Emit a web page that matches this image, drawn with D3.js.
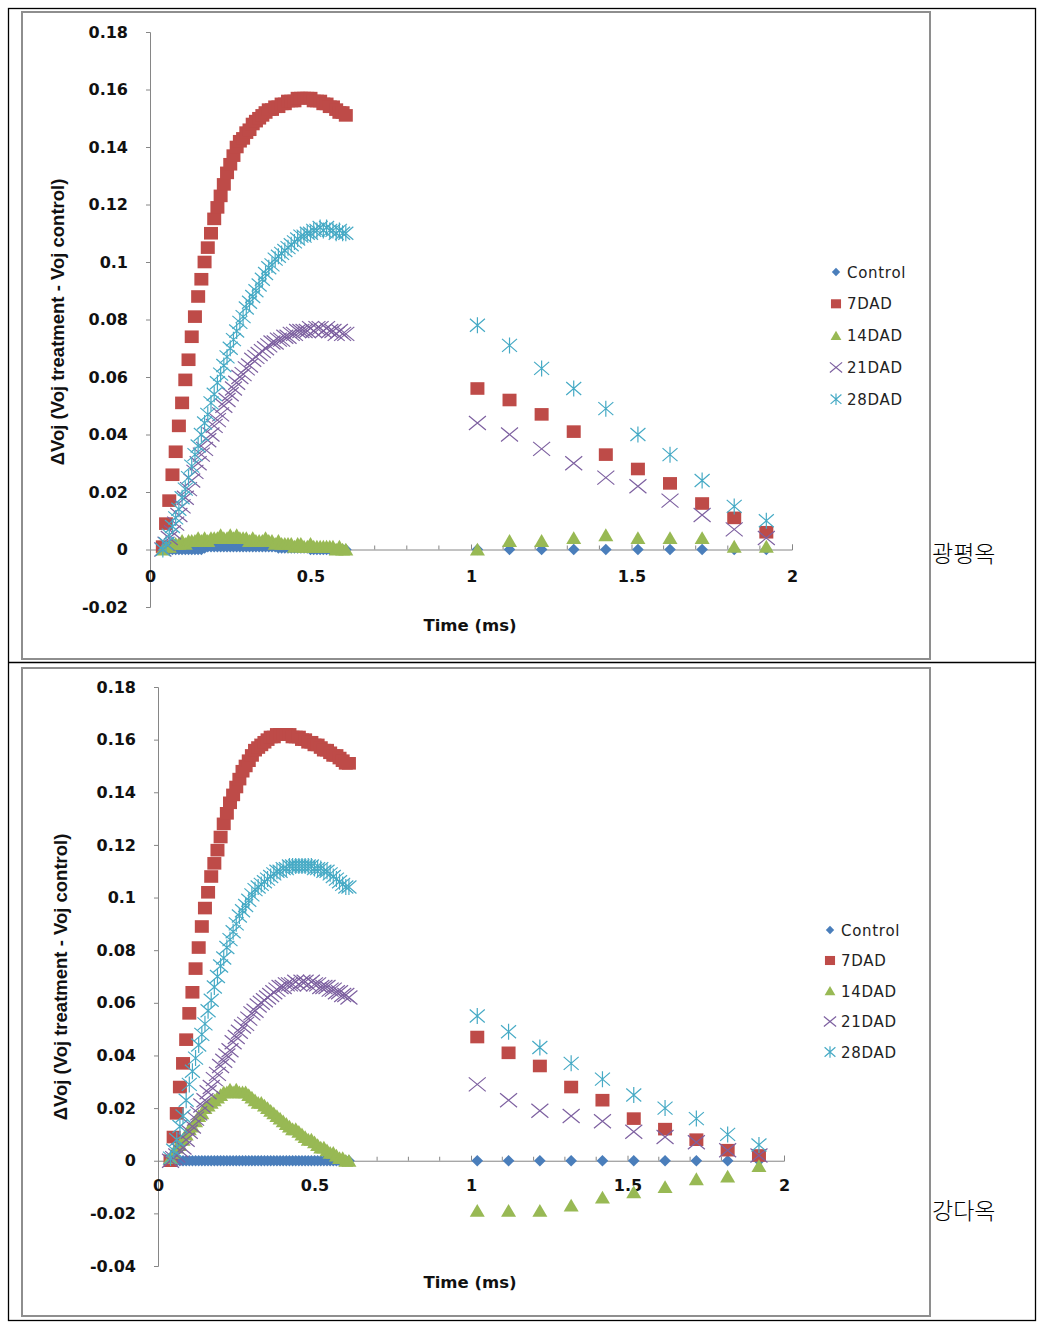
<!DOCTYPE html>
<html><head><meta charset="utf-8">
<script src="https://cdnjs.cloudflare.com/ajax/libs/d3/7.8.5/d3.min.js"></script>
<style>body{margin:0;background:#fff}svg{display:block}</style>
</head><body><svg id="c" width="1044" height="1329"></svg>
<script>
// ---------- data ----------
const seriesNames = ["Control","7DAD","14DAD","21DAD","28DAD"];
const denseTime = [0.04,0.05,0.06,0.07,0.08,0.09,0.10,0.11,0.12,0.13,0.14,0.15,0.16,0.17,0.18,0.19,0.20,0.21,0.22,0.23,0.24,0.25,0.26,0.27,0.28,0.29,0.30,0.31,0.32,0.33,0.34,0.35,0.36,0.37,0.38,0.39,0.40,0.41,0.42,0.43,0.44,0.45,0.46,0.47,0.48,0.49,0.50,0.51,0.52,0.53,0.54,0.55,0.56,0.57,0.58,0.59,0.60,0.61];
const sparseTime = [1.02,1.12,1.22,1.32,1.42,1.52,1.62,1.72,1.82,1.92];

// Panel 1 (광평옥)
const p1Control = [0,0,0,0,0,0,0,0,0,0,0,0,0,0.0005,0.001,0.001,0.001,0.001,0.001,0.001,0.001,0.001,0.001,0.001,0.001,0.001,0.001,0.001,0.001,0.001,0.001,0.001,0.001,0.001,0.001,0.001,0.0005,0.0005,0.0005,0.0005,0.0005,0.0005,0.0005,0.0005,0.0005,0.0005,0,0,0,0,0,0,0,0,0,0,0,0];
const p1D7 = [0.001,0.009,0.017,0.026,0.034,0.043,0.051,0.059,0.066,0.074,0.081,0.088,0.094,0.100,0.105,0.110,0.115,0.119,0.123,0.127,0.131,0.134,0.137,0.140,0.142,0.143,0.145,0.146,0.148,0.149,0.150,0.151,0.152,0.153,0.153,0.154,0.154,0.155,0.155,0.156,0.156,0.156,0.157,0.157,0.157,0.157,0.157,0.156,0.156,0.156,0.155,0.155,0.154,0.154,0.153,0.152,0.152,0.151];
const p1D14 = [0.000,0.001,0.001,0.002,0.002,0.002,0.003,0.002,0.003,0.003,0.003,0.004,0.003,0.004,0.003,0.004,0.004,0.004,0.005,0.004,0.004,0.005,0.004,0.005,0.004,0.004,0.004,0.003,0.004,0.003,0.003,0.003,0.004,0.003,0.003,0.002,0.003,0.002,0.002,0.002,0.002,0.001,0.002,0.002,0.001,0.001,0.002,0.001,0.001,0.001,0.001,0.001,0.001,0.001,0.000,0.001,0.000,0.000];
const p1D21 = [0.000,0.002,0.004,0.006,0.009,0.012,0.015,0.018,0.021,0.024,0.027,0.030,0.033,0.035,0.038,0.040,0.043,0.045,0.047,0.050,0.052,0.054,0.056,0.058,0.060,0.061,0.063,0.064,0.066,0.067,0.068,0.069,0.070,0.071,0.072,0.072,0.073,0.073,0.074,0.074,0.075,0.075,0.076,0.076,0.076,0.076,0.077,0.076,0.077,0.077,0.076,0.077,0.076,0.076,0.075,0.076,0.075,0.075];
const p1D28 = [0.000,0.002,0.005,0.008,0.011,0.014,0.018,0.021,0.025,0.029,0.033,0.036,0.040,0.044,0.047,0.051,0.054,0.058,0.061,0.064,0.067,0.070,0.073,0.076,0.079,0.081,0.084,0.086,0.088,0.090,0.092,0.094,0.096,0.098,0.099,0.101,0.102,0.103,0.104,0.105,0.106,0.107,0.108,0.109,0.109,0.110,0.110,0.111,0.111,0.112,0.111,0.112,0.111,0.111,0.110,0.111,0.110,0.110];
const p1ControlLate = [0,0,0,0,0,0,0,0,0,0];
const p1D7Late  = [0.056,0.052,0.047,0.041,0.033,0.028,0.023,0.016,0.011,0.006];
const p1D14Late = [0.000,0.003,0.003,0.004,0.005,0.004,0.004,0.004,0.001,0.001];
const p1D21Late = [0.044,0.040,0.035,0.030,0.025,0.022,0.017,0.012,0.007,0.004];
const p1D28Late = [0.078,0.071,0.063,0.056,0.049,0.040,0.033,0.024,0.015,0.010];

// Panel 2 (강다옥)
const p2Control = [0,0,0,0,0,0,0,0,0,0,0,0,0,0,0,0,0,0,0,0,0,0,0,0,0,0,0,0,0,0,0,0,0,0,0,0,0,0,0,0,0,0,0,0,0,0,0,0,0,0,0,0,0,0,0,0,0,0];
const p2D7 = [0.000,0.009,0.018,0.028,0.037,0.046,0.056,0.064,0.073,0.081,0.089,0.096,0.102,0.108,0.113,0.118,0.123,0.128,0.132,0.136,0.139,0.142,0.145,0.148,0.150,0.152,0.154,0.156,0.157,0.158,0.159,0.160,0.161,0.161,0.162,0.162,0.162,0.162,0.162,0.161,0.161,0.161,0.160,0.160,0.159,0.159,0.158,0.158,0.157,0.156,0.156,0.155,0.154,0.154,0.153,0.152,0.151,0.151];
const p2D14 = [0.001,0.003,0.005,0.006,0.008,0.010,0.012,0.013,0.015,0.017,0.018,0.020,0.021,0.022,0.023,0.024,0.025,0.026,0.026,0.027,0.026,0.027,0.026,0.026,0.026,0.025,0.024,0.023,0.022,0.022,0.021,0.020,0.019,0.018,0.017,0.016,0.015,0.014,0.013,0.012,0.012,0.011,0.010,0.009,0.008,0.008,0.007,0.006,0.005,0.005,0.004,0.003,0.003,0.002,0.001,0.001,0.000,0.000];
const p2D21 = [0.000,0.001,0.002,0.004,0.005,0.008,0.011,0.013,0.016,0.018,0.021,0.023,0.026,0.028,0.031,0.033,0.036,0.038,0.040,0.042,0.045,0.047,0.049,0.051,0.052,0.054,0.056,0.057,0.059,0.060,0.061,0.062,0.063,0.064,0.065,0.066,0.066,0.067,0.067,0.067,0.068,0.067,0.068,0.068,0.067,0.068,0.067,0.067,0.066,0.066,0.066,0.065,0.065,0.064,0.064,0.063,0.063,0.062];
const p2D28 = [0.001,0.004,0.008,0.013,0.017,0.023,0.029,0.034,0.039,0.044,0.048,0.052,0.057,0.061,0.066,0.070,0.074,0.077,0.081,0.084,0.087,0.090,0.093,0.095,0.097,0.099,0.101,0.103,0.104,0.105,0.106,0.107,0.108,0.109,0.110,0.110,0.111,0.111,0.112,0.112,0.112,0.112,0.112,0.112,0.112,0.112,0.111,0.111,0.111,0.110,0.110,0.109,0.108,0.107,0.106,0.105,0.104,0.104];
const p2ControlLate = [0,0,0,0,0,0,0,0,0,0];
const p2D7Late  = [0.047,0.041,0.036,0.028,0.023,0.016,0.012,0.008,0.004,0.002];
const p2D14Late = [-0.019,-0.019,-0.019,-0.017,-0.014,-0.012,-0.010,-0.007,-0.006,-0.002];
const p2D21Late = [0.029,0.023,0.019,0.017,0.015,0.011,0.009,0.007,0.004,0.002];
const p2D28Late = [0.055,0.049,0.043,0.037,0.031,0.025,0.020,0.016,0.010,0.006];

const xTickValues = [0,0.5,1,1.5,2];
const xTickLabels = ["0","0.5","1","1.5","2"];
const xMinorTicks = [0.1,0.2,0.3,0.4,0.6,0.7,0.8,0.9,1.1,1.2,1.3,1.4,1.6,1.7,1.8,1.9];
const p1YTicks = [-0.02,0,0.02,0.04,0.06,0.08,0.1,0.12,0.14,0.16,0.18];
const p1YLabels = ["-0.02","0","0.02","0.04","0.06","0.08","0.1","0.12","0.14","0.16","0.18"];
const p2YTicks = [-0.04,-0.02,0,0.02,0.04,0.06,0.08,0.1,0.12,0.14,0.16,0.18];
const p2YLabels = ["-0.04","-0.02","0","0.02","0.04","0.06","0.08","0.1","0.12","0.14","0.16","0.18"];
const colors = ["#4a7ebb","#be4b48","#98b954","#7d60a0","#46aac5"];

// ---------- drawing ----------
const svg = d3.select("#c");
const BOLD = "'DejaVu Sans', Verdana, sans-serif";

svg.append("rect").attr("x",8.5).attr("y",8.5).attr("width",1027).attr("height",1312)
  .attr("fill","none").attr("stroke","#000").attr("stroke-width",1.3);
svg.append("line").attr("x1",8).attr("x2",1036).attr("y1",662.5).attr("y2",662.5)
  .attr("stroke","#000").attr("stroke-width",1.3);
[[22,12,908,647],[22,668,908,648]].forEach(f=>{
  svg.append("rect").attr("x",f[0]).attr("y",f[1]).attr("width",f[2]).attr("height",f[3])
    .attr("fill","none").attr("stroke","#8e8e8e").attr("stroke-width",2);
});

function markerPath(k, s){
  s = s||1;
  switch(k){
    case 0: return `M0,${-5.8*s}L${5.8*s},0L0,${5.8*s}L${-5.8*s},0Z`;
    case 1: return `M${-7*s},${-6.3*s}h${14*s}v${12.6*s}h${-14*s}Z`;
    case 2: return `M0,${-6.8*s}L${7.5*s},${6*s}L${-7.5*s},${6*s}Z`;
    case 3: return `M${-8.5*s},${-7*s}L${8.5*s},${7*s}M${-8.5*s},${7*s}L${8.5*s},${-7*s}`;
    case 4: return `M${-7.5*s},${-6.5*s}L${7.5*s},${6.5*s}M${-7.5*s},${6.5*s}L${7.5*s},${-6.5*s}M0,${-8*s}L0,${8*s}`;
  }
}
function drawMarker(g, k, s){
  const p = g.append("path").attr("d", markerPath(k,s));
  if(k<=2) p.attr("fill",colors[k]).attr("stroke","none");
  else p.attr("fill","none").attr("stroke",colors[k]).attr("stroke-width",1.2);
  return p;
}

function panel(cfg){
  const x = d3.scaleLinear().domain([0,2]).range([cfg.x0, cfg.x1]);
  const y = d3.scaleLinear().domain(cfg.yDomain).range([cfg.yBottom, cfg.yTop]);
  const g = svg.append("g");
  const axisColor = "#868686";
  const ya = d3.axisLeft(y).tickValues(cfg.yTicks).tickSize(4).tickFormat((d,i)=>cfg.yLabels[i]).tickPadding(18);
  const yg = g.append("g").attr("transform",`translate(${cfg.x0},0)`).call(ya);
  yg.select(".domain").attr("stroke",axisColor);
  yg.selectAll(".tick line").attr("stroke",axisColor);
  yg.selectAll("text").attr("font-family",BOLD).attr("font-weight","bold").attr("font-size",16).attr("fill","#111");
  const y0 = y(0);
  const xa = d3.axisBottom(x).tickValues(xTickValues).tickSize(-5).tickFormat((d,i)=>xTickLabels[i]).tickPadding(0);
  const xg = g.append("g").attr("transform",`translate(0,${y0})`).call(xa);
  xg.select(".domain").attr("stroke",axisColor);
  xg.selectAll(".tick line").attr("stroke",axisColor);
  xg.selectAll("text").attr("font-family",BOLD).attr("font-weight","bold").attr("font-size",16).attr("fill","#111")
    .attr("dy",null).attr("y",cfg.xLabelDy);
  g.append("g").selectAll("line").data(xMinorTicks).join("line")
    .attr("x1",d=>x(d)).attr("x2",d=>x(d)).attr("y1",y0).attr("y2",y0-4).attr("stroke",axisColor);
  g.append("text").attr("x",470).attr("y",cfg.xTitleY).attr("text-anchor","middle")
    .attr("font-family",BOLD).attr("font-weight","bold").attr("font-size",16.5).attr("fill","#111").text("Time (ms)");
  g.append("text").attr("transform",`translate(${cfg.yTitleX},${cfg.yTitleY}) rotate(-90)`).attr("text-anchor","middle")
    .attr("font-family","'Liberation Sans', Arial, sans-serif").attr("font-weight","bold").attr("font-size",18.5).attr("fill","#111")
    .text("ΔVoj (Voj treatment - Voj control)");
  cfg.series.forEach((s,k)=>{
    const pts = denseTime.map((t,i)=>[t, s.early[i]]).concat(sparseTime.map((t,i)=>[t, s.late[i]]))
      .filter(d=>d[1]!==undefined);
    const sg = g.append("g");
    pts.forEach(d=>{
      drawMarker(sg,k,1).attr("transform",`translate(${x(d[0])},${y(d[1])})`);
    });
  });
  seriesNames.forEach((n,k)=>{
    const ly = cfg.legY + k*cfg.legStep;
    drawMarker(g,k,0.72).attr("transform",`translate(${cfg.legX},${ly})`);
    g.append("text").attr("x",cfg.legX+11).attr("y",ly+5.5).attr("font-family","'DejaVu Sans', Verdana, sans-serif")
      .attr("font-size",15).attr("letter-spacing",0.7).attr("fill","#222").text(n);
  });
  svg.append("text").attr("x",932).attr("y",cfg.sideY).attr("font-family","'Noto Sans CJK KR', sans-serif")
    .attr("font-size",23).attr("font-weight",300).attr("fill","#000").text(cfg.side);
}

panel({x0:150, x1:792, yTop:32, yBottom:607, yDomain:[-0.02,0.18], yTicks:p1YTicks, yLabels:p1YLabels,
  xLabelDy:32, xTitleY:631, yTitleX:64, yTitleY:322, legX:836, legY:272, legStep:31.8, side:"광평옥", sideY:562,
  series:[{early:p1Control,late:p1ControlLate},{early:p1D7,late:p1D7Late},{early:p1D14,late:p1D14Late},{early:p1D21,late:p1D21Late},{early:p1D28,late:p1D28Late}]});
panel({x0:158, x1:784, yTop:687, yBottom:1266, yDomain:[-0.04,0.18], yTicks:p2YTicks, yLabels:p2YLabels,
  xLabelDy:30, xTitleY:1288, yTitleX:67, yTitleY:977, legX:830, legY:930, legStep:30.5, side:"강다옥", sideY:1219,
  series:[{early:p2Control,late:p2ControlLate},{early:p2D7,late:p2D7Late},{early:p2D14,late:p2D14Late},{early:p2D21,late:p2D21Late},{early:p2D28,late:p2D28Late}]});
</script></body></html>
